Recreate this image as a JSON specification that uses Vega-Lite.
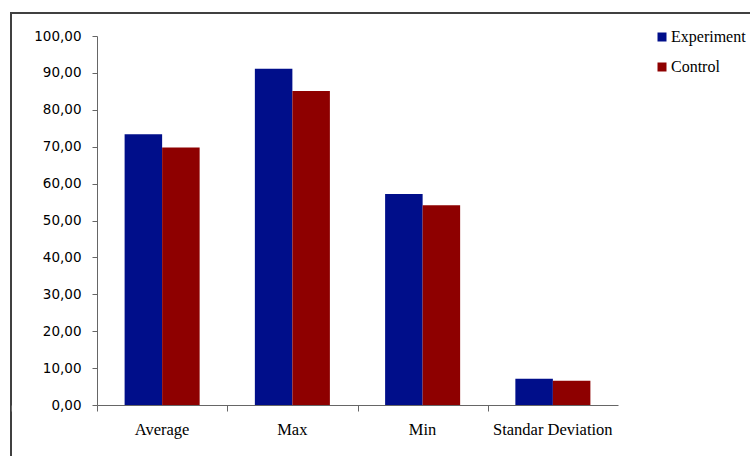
{
  "$schema": "https://vega.github.io/schema/vega-lite/v6.json",
  "width": 739,
  "height": 443,
  "autosize": {"type": "none"},
  "padding": {"left": 11, "top": 13, "right": 0, "bottom": 0},
  "background": "white",
  "config": {
    "view": {"stroke": "#404040", "strokeWidth": 2, "strokeDash": [739, 1182, 443]},
    "axis": {"grid": false}
  },
  "data": {
    "values": [
      {"stat": "Average", "group": "Experiment", "value": 73.4},
      {"stat": "Average", "group": "Control", "value": 69.8},
      {"stat": "Max", "group": "Experiment", "value": 91.1},
      {"stat": "Max", "group": "Control", "value": 85.1},
      {"stat": "Min", "group": "Experiment", "value": 57.2},
      {"stat": "Min", "group": "Control", "value": 54.1},
      {"stat": "Standar Deviation", "group": "Experiment", "value": 7.1},
      {"stat": "Standar Deviation", "group": "Control", "value": 6.6}
    ]
  },
  "mark": {"type": "bar"},
  "encoding": {
    "x": {
      "field": "stat",
      "type": "nominal",
      "sort": null,
      "scale": {"range": [86, 607], "paddingInner": 0.424, "paddingOuter": 0.212},
      "axis": {
        "title": null,
        "orient": "bottom",
        "offset": -51,
        "labelAngle": 0,
        "bandPosition": 0,
        "tickExtra": true,
        "tickOffset": -27.6,
        "labelOffset": 27,
        "tickSize": 6,
        "tickColor": "#666666",
        "domainColor": "#666666",
        "labelFont": "Liberation Serif",
        "labelFontSize": 16.5,
        "labelColor": "#000000",
        "labelPadding": 10
      }
    },
    "xOffset": {
      "field": "group",
      "type": "nominal",
      "sort": ["Experiment", "Control"],
      "scale": {"paddingInner": 0, "paddingOuter": 0}
    },
    "y": {
      "field": "value",
      "type": "quantitative",
      "scale": {"domain": [0, 100], "range": [392, 23], "nice": false},
      "axis": {
        "title": null,
        "orient": "left",
        "offset": -86,
        "values": [0, 10, 20, 30, 40, 50, 60, 70, 80, 90, 100],
        "labelExpr": "replace(format(datum.value, '.2f'), '.', ',')",
        "tickSize": 5,
        "tickColor": "#666666",
        "domainColor": "#666666",
        "labelFont": "DejaVu Sans",
        "labelFontSize": 13.5,
        "labelColor": "#000000",
        "labelPadding": 11
      }
    },
    "color": {
      "field": "group",
      "type": "nominal",
      "sort": ["Experiment", "Control"],
      "scale": {"domain": ["Experiment", "Control"], "range": ["#000E8A", "#8E0000"]},
      "legend": {
        "title": null,
        "orient": "none",
        "legendX": 643,
        "legendY": 16,
        "symbolType": "square",
        "symbolSize": 81,
        "symbolStrokeWidth": 0,
        "labelFont": "Liberation Serif",
        "labelFontSize": 16,
        "labelColor": "#000000",
        "labelOffset": 1,
        "rowPadding": 14
      }
    }
  }
}
